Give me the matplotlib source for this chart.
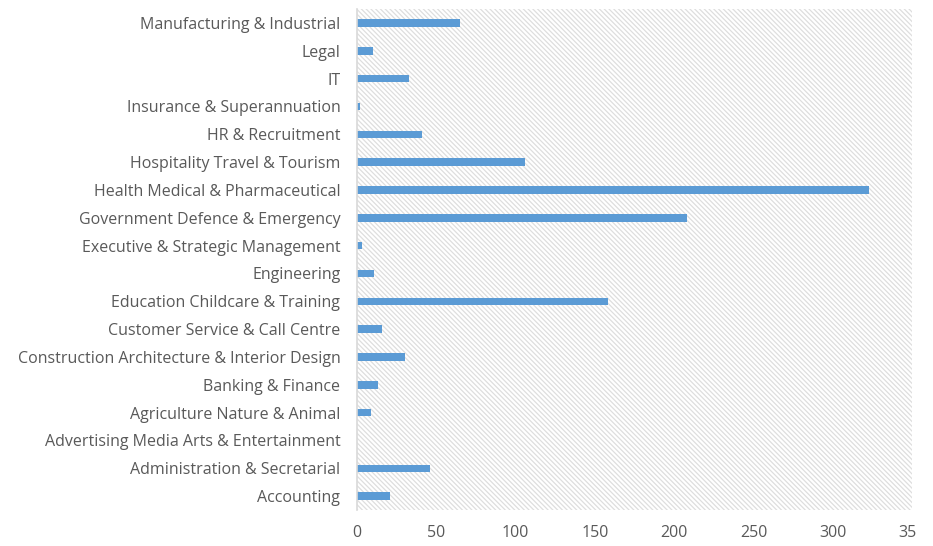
import matplotlib
matplotlib.use("Agg")
import matplotlib.pyplot as plt
from matplotlib.patches import Rectangle
from matplotlib.transforms import Bbox

categories = [
    "Accounting",
    "Administration & Secretarial",
    "Advertising Media Arts & Entertainment",
    "Agriculture Nature & Animal",
    "Banking & Finance",
    "Construction Architecture & Interior Design",
    "Customer Service & Call Centre",
    "Education Childcare & Training",
    "Engineering",
    "Executive & Strategic Management",
    "Government Defence & Emergency",
    "Health Medical & Pharmaceutical",
    "Hospitality Travel & Tourism",
    "HR & Recruitment",
    "Insurance & Superannuation",
    "IT",
    "Legal",
    "Manufacturing & Industrial",
]
counts = [21, 46, 0, 9, 13, 30, 16, 158, 11, 3, 208, 323, 106, 41, 2, 33, 10, 65]
x_ticks = [0, 50, 100, 150, 200, 250, 300, 350]

plt.rcParams['font.family'] = ['Open Sans', 'DejaVu Sans']
plt.rcParams['hatch.linewidth'] = 0.9
plt.rcParams['hatch.color'] = '#dedede'

fig = plt.figure(figsize=(9.33, 5.46), dpi=100)
ax = fig.add_axes([0.3826, 0.0659, 0.595, 0.9176])

# hatched plot area, like the excel pattern fill
ax.add_patch(Rectangle((0, 0), 1, 1, transform=ax.transAxes, facecolor='white',
                       edgecolor='#dedede', linewidth=0, hatch='\\' * 7, zorder=0))

y = range(len(categories))
ax.barh(y, counts, height=0.27, color='#5b9bd5', zorder=2)

ax.set_xlim(0, 350)
ax.set_ylim(-0.5, len(categories) - 0.5)
ax.set_yticks(list(y))
ax.set_yticklabels(categories)
ax.set_xticks(x_ticks)
ax.set_xticklabels([str(t) for t in x_ticks])

ax.tick_params(axis='both', length=0, colors='#595959', labelsize=11.5)
ax.tick_params(axis='y', pad=12)
ax.tick_params(axis='x', pad=11)

for s in ['top', 'right', 'bottom']:
    ax.spines[s].set_visible(False)
ax.spines['left'].set_color('#d9d9d9')
ax.spines['left'].set_linewidth(1.2)
ax.spines['left'].set_zorder(3)

# the original picture is cut off on the right, through the last tick label
clip = Bbox([[0, 0], [916, 546]])
for lbl in ax.get_xticklabels():
    lbl.set_clip_box(clip)
    lbl.set_clip_on(True)

fig.savefig("out.png", dpi=100)
